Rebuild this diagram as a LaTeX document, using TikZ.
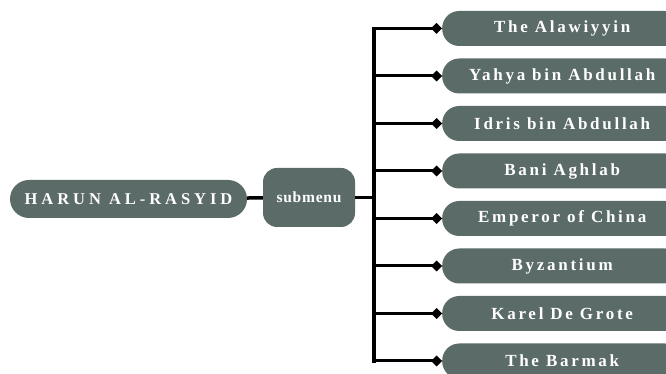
\documentclass[tikz,border=0pt]{standalone}
\usepackage{fontspec}
\setmainfont{Liberation Serif}
\usetikzlibrary{arrows.meta}
\definecolor{slate-box}{HTML}{5B6B68}

\begin{document}
\begin{tikzpicture}[x=1pt, y=1pt,
      box/.style={fill=slate-box, text=white, inner sep=0pt},
      rootbox/.style={box, minimum width=237pt, minimum height=38pt,
        rounded corners=19pt, font=\fontsize{16.5}{19}\selectfont\bfseries\addfontfeature{LetterSpace=24}},
      subbox/.style={box, minimum width=92pt, minimum height=59pt,
        rounded corners=14pt, font=\fontsize{15.5}{18}\selectfont\bfseries\addfontfeature{LetterSpace=5}},
      leafbox/.style={box, anchor=west, minimum width=240pt, minimum height=35pt,
        rounded corners=17pt, font=\fontsize{17}{20}\selectfont\bfseries\addfontfeature{LetterSpace=16}},
      link/.style={line width=3.5pt}]
    \clip (0,0) rectangle (666,374);
    \node[rootbox] (root) at (128.5,175) {HARUN AL-RASYID};
    \node[subbox] (sub) at (309,176.5) {submenu};
    \draw[link] (root) -- (sub);
    \coordinate (trunk) at (374,176.5);
    \foreach \i/\name [count=\k from 0] in {1/The Alawiyyin, 2/Yahya bin Abdullah,
        3/Idris bin Abdullah, 4/Bani Aghlab, 5/Emperor of China,
        6/Byzantium, 7/Karel De Grote, 8/The Barmak}
      \node[leafbox] (leaf\i) at (442,345.5-47.5*\k) {\name};
    \draw[link] (sub.east) -- (trunk);
    \draw[link, line cap=rect] (trunk |- leaf1.west) -- (trunk |- leaf8.west);
    \foreach \i in {1,...,8}
      \draw[line width=3pt, -{Diamond[length=11pt, width=11pt]}]
        (trunk |- leaf\i.west) -- (leaf\i.west);
\end{tikzpicture}
\end{document}
